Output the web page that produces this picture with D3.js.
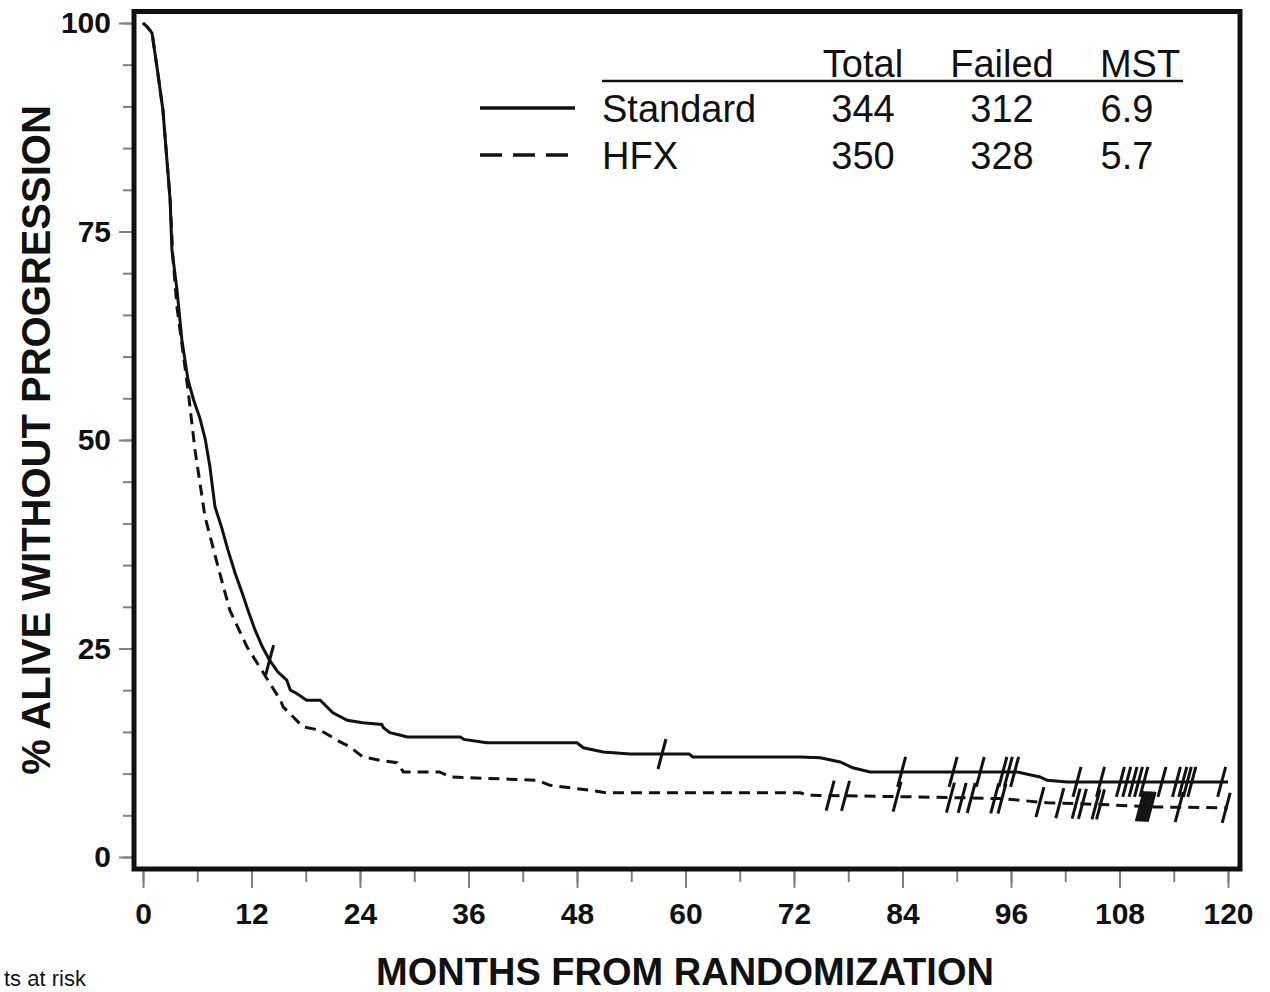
<!DOCTYPE html>
<html>
<head>
<meta charset="utf-8">
<script src="https://cdn.jsdelivr.net/npm/d3@7"></script>
<style>
  body { margin: 0; background: #fff; overflow: hidden; }
  svg { display: block; }
</style>
</head>
<body>
<div id="wrapper"></div>
<script>
// Kaplan-Meier curves (month, % alive without progression)
const stdTime = [0, 0.5, 1, 1.55, 2.2, 3, 3.2, 3.76, 4.3, 4.98, 5.6, 6.3, 6.9, 7.4, 7.96, 8.7, 9.4, 10.2, 10.95, 11.7, 12.4, 13.2, 14, 14.9, 15.9, 16.3, 17, 18.1, 19.6, 21, 22.6, 24.3, 26.4, 26.6, 27.3, 28.5, 29.2, 35.1, 35.5, 38, 48, 48.7, 50.9, 53.9, 60.4, 60.8, 72.7, 74.9, 77.1, 78.5, 80.4, 96.7, 99.2, 100, 102.2, 120];
const stdSurv = [100, 99.5, 98.8, 94.7, 89.6, 78.8, 72.8, 68, 62, 57.2, 54.8, 52.6, 50, 46.8, 42, 39.5, 36.8, 34, 31.7, 29.3, 27.2, 25.2, 23.6, 22.2, 21.2, 20.0, 19.6, 18.8, 18.8, 17.3, 16.4, 16.1, 15.9, 15.5, 14.9, 14.6, 14.4, 14.4, 14.1, 13.7, 13.7, 13.1, 12.6, 12.35, 12.35, 12.0, 12.0, 11.9, 11.4, 10.7, 10.2, 10.2, 9.6, 9.2, 9.0, 9.0];

const hfxTime = [0, 0.5, 1, 1.55, 2.2, 3, 3.3, 3.76, 4.98, 5.75, 6.86, 8.3, 9.6, 11.5, 13.3, 15.2, 15.5, 17.7, 19.6, 21.8, 22.9, 24.3, 26.2, 28.1, 28.8, 32.8, 34, 43.6, 45, 49.4, 51.3, 72.7, 73.5, 86, 95, 100, 106, 112, 120];
const hfxSurv = [100, 99.5, 98.8, 94.7, 89.6, 78.8, 72, 65.9, 56, 48.8, 40.8, 34.8, 29.6, 25.2, 22.1, 18.8, 18, 15.6, 15.2, 13.8, 13.2, 12.0, 11.6, 11.3, 10.2, 10.2, 9.6, 9.2, 8.6, 8.0, 7.7, 7.7, 7.4, 7.2, 7.0, 6.5, 6.3, 6.0, 5.9];

// censored observations (months)
const stdCensor = [14, 57.4, 83.9, 89.6, 92.6, 95.1, 95.7, 96.4, 103.3, 105.9, 108.1, 108.8, 109.5, 110.1, 110.7, 112.7, 114.3, 115.0, 115.5, 116.0, 119.3];
const hfxCensor = [76.0, 77.7, 83.4, 89.3, 90.6, 91.6, 94.2, 95.0, 99.2, 101.4, 103.2, 103.9, 105.4, 105.9, 110.3, 110.6, 110.9, 111.2, 111.5, 114.6, 119.8];

const xTicks = [0, 12, 24, 36, 48, 60, 72, 84, 96, 108, 120];
const xMinor = d3.range(0, 121, 6);
const yTicks = [0, 25, 50, 75, 100];
const yMinor = d3.range(0, 101, 5);

const legendHead = ["Total", "Failed", "MST"];
const legendNames = ["Standard", "HFX"];
const legendTotal = [344, 350];
const legendFailed = [312, 328];
const legendMST = ["6.9", "5.7"];

const font = "'Liberation Sans', Arial, Helvetica, sans-serif";

let dimensions = {
  width: 1270,
  height: 992,
  left: 134, top: 11.5, right: 1240, bottom: 869
}

let wrapper = d3.select("#wrapper").append("svg")
  .attr("width", dimensions.width)
  .attr("height", dimensions.height);

let xScale = d3.scaleLinear().domain([0, 120]).range([143, 1228]);
let yScale = d3.scaleLinear().domain([0, 100]).range([857, 23]);

// value of the drawn curve at time t
function valueAt(times, survs, t) {
  let i = d3.bisectRight(times, t);
  if (i <= 0) return survs[0];
  if (i >= times.length) return survs[survs.length - 1];
  let t0 = times[i - 1], t1 = times[i];
  let k = (t - t0) / (t1 - t0);
  return survs[i - 1] + k * (survs[i] - survs[i - 1]);
}

// axes (ticks outside the frame)
const yMinorAxis = d3.axisLeft(yScale).tickValues(yMinor).tickSize(9).tickFormat("");
const yAxis = d3.axisLeft(yScale).tickValues(yTicks).tickSize(13).tickPadding(8);
const xMinorAxis = d3.axisBottom(xScale).tickValues(xMinor).tickSize(11).tickFormat("");
const xAxis = d3.axisBottom(xScale).tickValues(xTicks).tickSize(17).tickPadding(15);

function styleAxis(g) {
  g.select(".domain").remove();
  g.selectAll(".tick line").attr("stroke", "#808080").attr("stroke-width", 2);
  g.selectAll(".tick text")
    .attr("fill", "#111")
    .style("font-family", font)
    .style("font-weight", "bold")
    .style("font-size", "30px");
}

wrapper.append("g").attr("transform", "translate(132,0)").call(yMinorAxis).call(styleAxis);
wrapper.append("g").attr("transform", "translate(132,0)").call(yAxis).call(styleAxis);
wrapper.append("g").attr("transform", "translate(0,871)").call(xMinorAxis).call(styleAxis);
wrapper.append("g").attr("transform", "translate(0,871)").call(xAxis).call(styleAxis);

// frame
wrapper.append("rect")
  .attr("x", dimensions.left)
  .attr("y", dimensions.top)
  .attr("width", dimensions.right - dimensions.left)
  .attr("height", dimensions.bottom - dimensions.top)
  .attr("fill", "none")
  .attr("stroke", "#111")
  .attr("stroke-width", 5);

// curves
const line = d3.line()
  .x(d => xScale(d[0]))
  .y(d => yScale(d[1]));

wrapper.append("path")
  .datum(d3.zip(hfxTime, hfxSurv))
  .attr("d", line)
  .attr("fill", "none")
  .attr("stroke", "#111")
  .attr("stroke-width", 3)
  .attr("stroke-dasharray", "11,7");

wrapper.append("path")
  .datum(d3.zip(stdTime, stdSurv))
  .attr("d", line)
  .attr("fill", "none")
  .attr("stroke", "#111")
  .attr("stroke-width", 3);

// censor marks
function censorMarks(list, times, survs) {
  wrapper.append("g").selectAll("line")
    .data(list)
    .enter()
    .append("line")
    .attr("x1", d => xScale(d) - 4)
    .attr("y1", d => yScale(valueAt(times, survs, d)) + 15)
    .attr("x2", d => xScale(d) + 4)
    .attr("y2", d => yScale(valueAt(times, survs, d)) - 15)
    .attr("stroke", "#111")
    .attr("stroke-width", 3);
}
censorMarks(stdCensor, stdTime, stdSurv);
censorMarks(hfxCensor, hfxTime, hfxSurv);

// legend table
const colX = [863, 1002, 1140];
const valX = [863, 1002, 1127];
const legend = wrapper.append("g")
  .style("font-family", font)
  .style("font-size", "38px")
  .attr("fill", "#111");

legend.selectAll(".head")
  .data(legendHead)
  .enter()
  .append("text")
  .attr("x", (d, i) => colX[i])
  .attr("y", 77)
  .attr("text-anchor", "middle")
  .text(d => d);

legend.append("line")
  .attr("x1", 602).attr("x2", 1183)
  .attr("y1", 81).attr("y2", 81)
  .attr("stroke", "#111").attr("stroke-width", 2.5);

const rowY = [122, 169];
legendNames.forEach((name, i) => {
  legend.append("line")
    .attr("x1", 480).attr("x2", 575)
    .attr("y1", rowY[i] - 14).attr("y2", rowY[i] - 14)
    .attr("stroke", "#111").attr("stroke-width", 3.5)
    .attr("stroke-dasharray", i === 1 ? "22,11" : null);
  legend.append("text").attr("x", 602).attr("y", rowY[i]).text(name);
  legend.append("text").attr("x", valX[0]).attr("y", rowY[i]).attr("text-anchor", "middle").text(legendTotal[i]);
  legend.append("text").attr("x", valX[1]).attr("y", rowY[i]).attr("text-anchor", "middle").text(legendFailed[i]);
  legend.append("text").attr("x", valX[2]).attr("y", rowY[i]).attr("text-anchor", "middle").text(legendMST[i]);
});

// axis titles
wrapper.append("text")
  .attr("x", 685)
  .attr("y", 985)
  .attr("text-anchor", "middle")
  .style("font-family", font)
  .style("font-weight", "bold")
  .style("font-size", "38px")
  .attr("fill", "#111")
  .text("MONTHS FROM RANDOMIZATION");

wrapper.append("text")
  .attr("transform", "translate(50,440) rotate(-90)")
  .attr("text-anchor", "middle")
  .style("font-family", font)
  .style("font-weight", "bold")
  .style("font-size", "40px")
  .attr("fill", "#111")
  .text("% ALIVE WITHOUT PROGRESSION");

// caption fragment at the bottom-left edge
wrapper.append("text")
  .attr("x", 4)
  .attr("y", 986)
  .style("font-family", font)
  .style("font-size", "22px")
  .attr("fill", "#111")
  .text("ts at risk");
</script>
</body>
</html>
